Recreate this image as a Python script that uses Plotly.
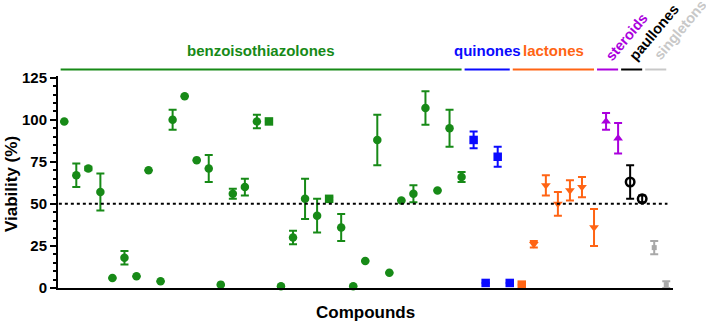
import plotly.graph_objects as go

# ---------------- data ----------------
groups = ["benzoisothiazolones", "quinones", "lactones", "steroids", "paullones", "singletons"]
group_sizes = [34, 4, 7, 2, 2, 2]

viability = [
    99, 67, 71, 57, 6, 18, 7, 70, 4, 100,
    114, 76, 71, 2, 56, 60, 99, 99, 1, 30,
    53, 43, 53, 36, 1, 16, 88, 9, 52, 56,
    107, 58, 95, 66,
    88, 3, 78, 3,
    2, 26, 61, 50, 58, 60, 36,
    99, 89,
    63, 53,
    24, 2,
]
sd = [
    0, 7, 1, 11, 0, 4, 0, 0, 0, 6,
    0, 0, 8, 0, 3, 5, 4, 0, 0, 4,
    12, 10, 1, 8, 0, 0, 15, 0, 0, 5,
    10, 0, 11, 3,
    5, 0, 6, 0,
    0, 2, 6, 7, 6, 6, 11,
    5, 9,
    10, 2,
    4, 2,
]
threshold = 50
y_ticks = [0, 25, 50, 75, 100, 125]
x_title = "Compounds"
y_title = "Viability (%)"

# ---------------- styles ----------------
group_colors = ["#178a17", "#0a0aff", "#ff6414", "#aa00dd", "#000000", "#a8a8a8"]
group_line_colors = ["#178a17", "#0a0aff", "#ff6414", "#aa00dd", "#000000", "#c8c8c8"]
group_symbols = ["circle", "square", "triangle-down", "triangle-up", "circle-open", "square"]
symbol_overrides = {18: "square", 23: "square", 39: "square"}
FONT = "Liberation Sans, Arial, sans-serif"

W, H = 706, 324
ML, MR, MT, MB = 58, 33, 76, 36
PW, PH = W - ML - MR, H - MT - MB

fig = go.Figure()
start = 1
group_ranges = []
for g, n, col, sym in zip(groups, group_sizes, group_colors, group_symbols):
    idx = list(range(start, start + n))
    group_ranges.append((idx[0], idx[-1]))
    ys = [viability[i - 1] for i in idx]
    es = [sd[i - 1] for i in idx]
    syms = [symbol_overrides.get(i, sym) for i in idx]
    size = 5 if g == "singletons" else 8.5
    fig.add_trace(go.Scatter(
        x=idx, y=ys, mode="markers", name=g,
        marker=dict(symbol=syms, size=size, color=col,
                    line=dict(width=2.5 if sym == "circle-open" else 0, color=col)),
        error_y=dict(type="data", array=es, visible=True, color=col, thickness=2, width=4),
        cliponaxis=False, hoverinfo="skip", showlegend=False,
    ))
    start += n

n_total = sum(group_sizes)
x_min, x_max = 0.48, n_total + 0.56

# threshold line
fig.add_shape(type="line", xref="x", yref="y", x0=0.55, x1=n_total + 0.1,
              y0=threshold, y1=threshold, line=dict(color="black", width=2, dash="dot"))

def py(px):
    """pixel row -> paper y"""
    return (H - MB - px) / PH

# group lines + labels
line_y = py(69.5)
for (g, (a, b), col, lcol) in zip(groups, group_ranges, group_colors, group_line_colors):
    x0 = max(a - 0.75, 0.7)
    x1 = b
    fig.add_shape(type="line", xref="x", yref="paper", x0=x0, x1=x1, y0=line_y, y1=line_y,
                  line=dict(color=lcol, width=2))
    if g in ("benzoisothiazolones", "quinones", "lactones"):
        fig.add_annotation(x=(x0 + x1) / 2, y=py(51), xref="x", yref="paper", text=f"<b>{g}</b>",
                           showarrow=False, xanchor="center", yanchor="middle",
                           font=dict(family=FONT, size=15, color=col))
    else:
        fig.add_annotation(x=a - 0.55, y=py(66), xref="x", yref="paper", text=f"<b>{g}</b>",
                           showarrow=False, xanchor="left", yanchor="bottom", textangle=-50,
                           font=dict(family=FONT, size=14.5, color=lcol if g == "singletons" else col))

# axis titles
fig.add_annotation(x=0.5, y=py(312), xref="paper", yref="paper", text=f"<b>{x_title}</b>",
                   showarrow=False, xanchor="center", yanchor="middle",
                   font=dict(family=FONT, size=17, color="black"))
fig.add_annotation(x=(11 - ML) / PW, y=py(184), xref="paper", yref="paper", text=f"<b>{y_title}</b>",
                   showarrow=False, xanchor="center", yanchor="middle", textangle=-90,
                   font=dict(family=FONT, size=17, color="black"))

fig.update_layout(
    width=W, height=H,
    margin=dict(l=ML, r=MR, t=MT, b=MB),
    plot_bgcolor="white", paper_bgcolor="white",
    font=dict(family=FONT, color="black"),
    xaxis=dict(range=[x_min, x_max], showline=True, linecolor="black", linewidth=2,
               showticklabels=False, ticks="", showgrid=False, zeroline=False, automargin=False),
    yaxis=dict(range=[0, 126], showline=True, linecolor="black", linewidth=2,
               tickvals=y_ticks, ticktext=[f"<b>{v}</b>" for v in y_ticks],
               ticks="outside", ticklen=6, tickwidth=2, tickcolor="black",
               tickfont=dict(size=15, family=FONT),
               minor=dict(dtick=5, ticks="outside", ticklen=3, tickwidth=1.5, tickcolor="black"),
               showgrid=False, zeroline=False, automargin=False),
)

fig.write_html("out.html", config={"displayModeBar": False},
               post_script="document.body.style.margin='0';document.body.style.overflow='hidden';")
